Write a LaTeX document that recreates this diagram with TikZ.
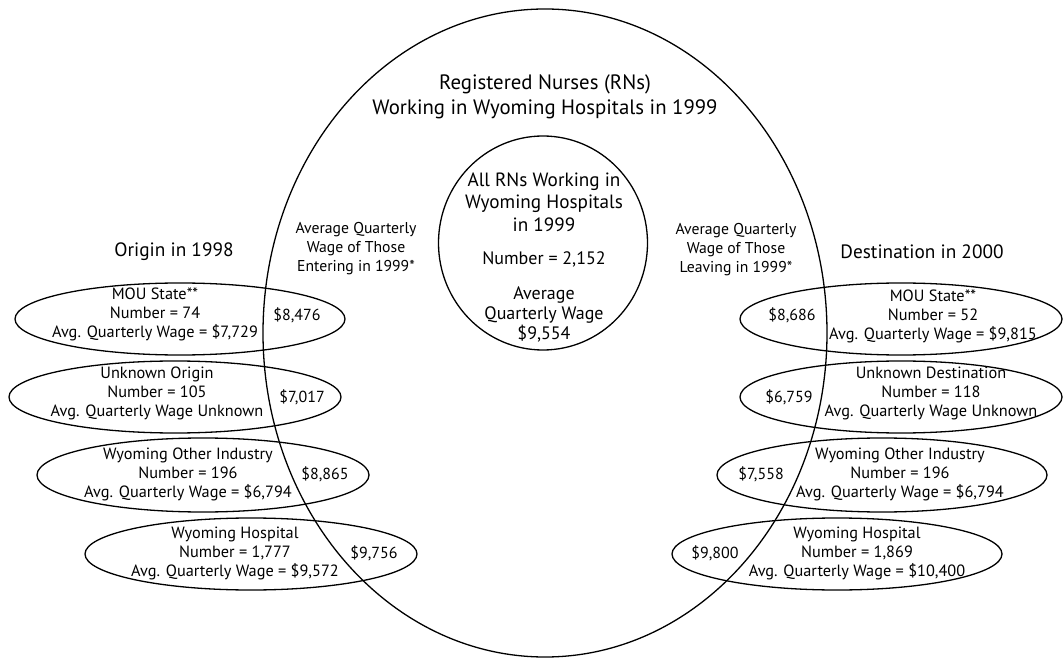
\documentclass[tikz,border=0pt]{standalone}
\usepackage{fontspec}
\setmainfont{PT Sans}
\begin{document}
\begin{tikzpicture}[x=1pt,y=-1pt,
  ring/.style={line width=1.3pt, draw=black},
  etext/.style={align=center, inner sep=0pt, font=\fontsize{16.3}{19}\selectfont},
  money/.style={inner sep=0pt, font=\fontsize{16}{19}\selectfont},
  side/.style={align=center, inner sep=0pt, font=\fontsize{15.7}{19}\selectfont},
  head/.style={align=center, inner sep=0pt, font=\fontsize{19.3}{22}\selectfont},
  title/.style={align=center, inner sep=0pt, font=\fontsize{20.8}{25}\selectfont},
  ctop/.style={align=center, inner sep=0pt, font=\fontsize{19.2}{22.5}\selectfont},
  cbot/.style={align=center, inner sep=0pt, font=\fontsize{18}{20}\selectfont}]
\useasboundingbox (0,0) rectangle (1063,660);
% centres
\coordinate (big) at (545,333);
\coordinate (inner) at (543,243);
\coordinate (l1) at (180,319);
\coordinate (l2) at (175,397);
\coordinate (l3) at (203,475);
\coordinate (l4) at (251,554);
\coordinate (r1) at (901,319);
\coordinate (r2) at (901,397);
\coordinate (r3) at (882,475);
\coordinate (r4) at (837,554);
% shapes
\draw[ring] (big) ellipse [x radius=282, y radius=324];
\draw[ring] (inner) ellipse [x radius=104.5, y radius=107];
\draw[ring] (l1) ellipse [x radius=165, y radius=36];
\draw[ring] (l2) ellipse [x radius=166, y radius=36];
\draw[ring] (l3) ellipse [x radius=166, y radius=37];
\draw[ring] (l4) ellipse [x radius=166, y radius=36];
\draw[ring] (r1) ellipse [x radius=161, y radius=36];
\draw[ring] (r2) ellipse [x radius=161, y radius=36];
\draw[ring] (r3) ellipse [x radius=165, y radius=37];
\draw[ring] (r4) ellipse [x radius=165, y radius=36];
% title and centre
\node[title] (ttl) at (545,97) {Registered Nurses (RNs)\\Working in Wyoming Hospitals in 1999};
\node[ctop] (ct) at (544,202) {All RNs Working in\\Wyoming Hospitals\\in 1999};
\node[cbot] (cn) at (544,259) {Number = 2,152};
\node[cbot] (cb) at (544,314) {Average\\Quarterly Wage\\\$9,554};
% headings
\node[head] (orig) at (174,252) {Origin in 1998};
\node[head] (dest) at (922,252) {Destination in 2000};
\node[side] (ent) at (356,249) {Average Quarterly\\Wage of Those\\Entering in 1999*};
\node[side] (lea) at (736,250) {Average Quarterly\\Wage of Those\\Leaving in 1999*};
% left
\node[etext] (tl1) at (155,314) {MOU State**\\Number = 74\\Avg. Quarterly Wage = \$7,729};
\node[etext] (tl2) at (157,393) {Unknown Origin\\Number = 105\\Avg. Quarterly Wage Unknown};
\node[etext] (tl3) at (188,474) {Wyoming Other Industry\\Number = 196\\Avg. Quarterly Wage = \$6,794};
\node[etext] (tl4) at (235,553) {Wyoming Hospital\\Number = 1,777\\Avg. Quarterly Wage = \$9,572};
\node[money] (ml1) at (297,315) {\$8,476};
\node[money] (ml2) at (302,397) {\$7,017};
\node[money] (ml3) at (325,474) {\$8,865};
\node[money] (ml4) at (374,553) {\$9,756};
% right
\node[etext] (tr1) at (933,316) {MOU State**\\Number = 52\\Avg. Quarterly Wage = \$9,815};
\node[etext] (tr2) at (931,393) {Unknown Destination\\Number = 118\\Avg. Quarterly Wage Unknown};
\node[etext] (tr3) at (900,474) {Wyoming Other Industry\\Number = 196\\Avg. Quarterly Wage = \$6,794};
\node[etext] (tr4) at (857,553) {Wyoming Hospital\\Number = 1,869\\Avg. Quarterly Wage = \$10,400};
\node[money] (mr1) at (792,315) {\$8,686};
\node[money] (mr2) at (789,397) {\$6,759};
\node[money] (mr3) at (761,474) {\$7,558};
\node[money] (mr4) at (715,553) {\$9,800};
\end{tikzpicture}
\end{document}
